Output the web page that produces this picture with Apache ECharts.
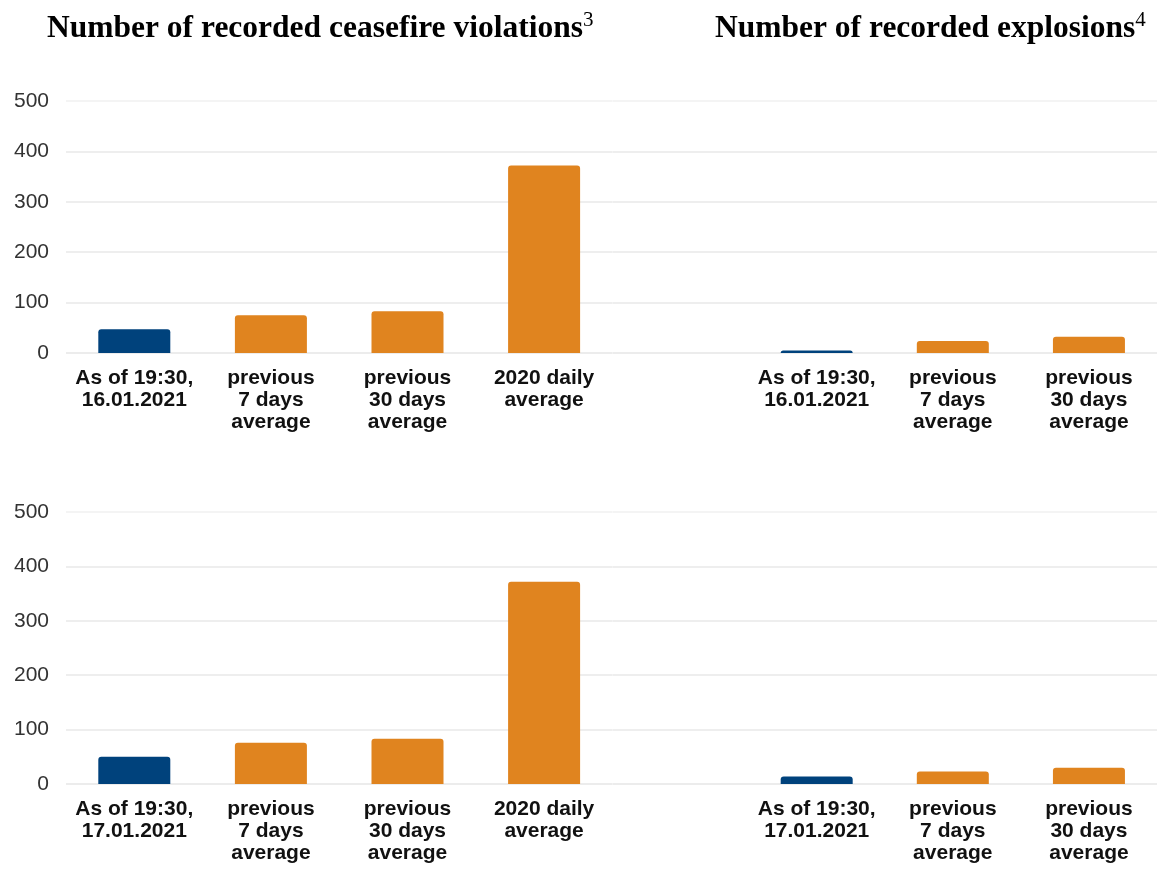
<!DOCTYPE html>
<html>
<head>
<meta charset="utf-8">
<script src="https://cdn.jsdelivr.net/npm/echarts@6/dist/echarts.min.js"></script>
<style>
html,body{margin:0;padding:0;background:#fff;}
#main{width:1157px;height:871px;}
</style>
</head>
<body>
<div id="main"></div>
<script>
// ---- data ----
const ceaseCats16 = ['As of 19:30,\n16.01.2021', 'previous\n7 days\naverage', 'previous\n30 days\naverage', '2020 daily\naverage'];
const ceaseVals16 = [47, 75, 83, 372];
const explCats16 = ['', 'As of 19:30,\n16.01.2021', 'previous\n7 days\naverage', 'previous\n30 days\naverage'];
const explVals16 = [null, 5, 24, 32];
const ceaseCats17 = ['As of 19:30,\n17.01.2021', 'previous\n7 days\naverage', 'previous\n30 days\naverage', '2020 daily\naverage'];
const ceaseVals17 = [50, 76, 83, 372];
const explCats17 = ['', 'As of 19:30,\n17.01.2021', 'previous\n7 days\naverage', 'previous\n30 days\naverage'];
const explVals17 = [null, 14, 23, 30];
const yMin = 0, yMax = 500, yStep = 100;
const titleLeft = 'Number of recorded ceasefire violations';
const titleLeftNote = '3';
const titleRight = 'Number of recorded explosions';
const titleRightNote = '4';

const BLUE = '#00427c';
const ORANGE = '#e0841f';
const chart = echarts.init(document.getElementById('main'));

const richTitle = {
  t: { fontFamily: 'Liberation Serif', fontWeight: 'bold', fontSize: 31.5, color: '#000', lineHeight: 38 },
  s: { fontFamily: 'Liberation Serif', fontWeight: 'normal', fontSize: 21, color: '#000', lineHeight: 20, verticalAlign: 'top' }
};

const grids = [
  { left: 66, width: 546.4, top: 101, height: 252 },
  { left: 612.5, width: 546.4, top: 101, height: 252 },
  { left: 66, width: 546.4, top: 512, height: 272 },
  { left: 612.5, width: 546.4, top: 512, height: 272 }
];
const catsList = [ceaseCats16, explCats16, ceaseCats17, explCats17];
const valsList = [ceaseVals16, explVals16, ceaseVals17, explVals17];

const xAxes = catsList.map((cats, i) => ({
  type: 'category', gridIndex: i, data: cats,
  axisLine: { show: false }, axisTick: { show: false },
  axisLabel: {
    interval: 0, margin: 14, color: '#111', fontFamily: 'Liberation Sans',
    fontWeight: 'bold', fontSize: 21, lineHeight: 22
  }
}));
const yAxes = catsList.map((cats, i) => ({
  type: 'value', gridIndex: i, min: yMin, max: yMax, interval: yStep,
  axisLine: { show: false }, axisTick: { show: false },
  axisLabel: {
    show: i % 2 === 0, margin: 17, color: '#333', fontFamily: 'Liberation Sans', fontSize: 21
  },
  splitLine: { lineStyle: { color: ['#e6e6e6', '#e9e9e9', '#e9e9e9', '#e9e9e9', '#e9e9e9', '#f1f1f1'], width: 1.6 } }
}));
const series = valsList.map((vals, i) => ({
  type: 'bar', xAxisIndex: i, yAxisIndex: i, data: vals, barWidth: 72,
  itemStyle: {
    borderRadius: [3, 3, 0, 0],
    color: p => (String(catsList[i][p.dataIndex]).indexOf('As of') === 0 ? BLUE : ORANGE)
  }
}));

chart.setOption({
  animation: false,
  title: [
    { text: '{t|' + titleLeft + '}{s|' + titleLeftNote + '}', left: 42, top: 5, textStyle: { rich: richTitle } },
    { text: '{t|' + titleRight + '}{s|' + titleRightNote + '}', left: 710, top: 5, textStyle: { rich: richTitle } }
  ],
  grid: grids,
  xAxis: xAxes,
  yAxis: yAxes,
  series: series
});
</script>
</body>
</html>
